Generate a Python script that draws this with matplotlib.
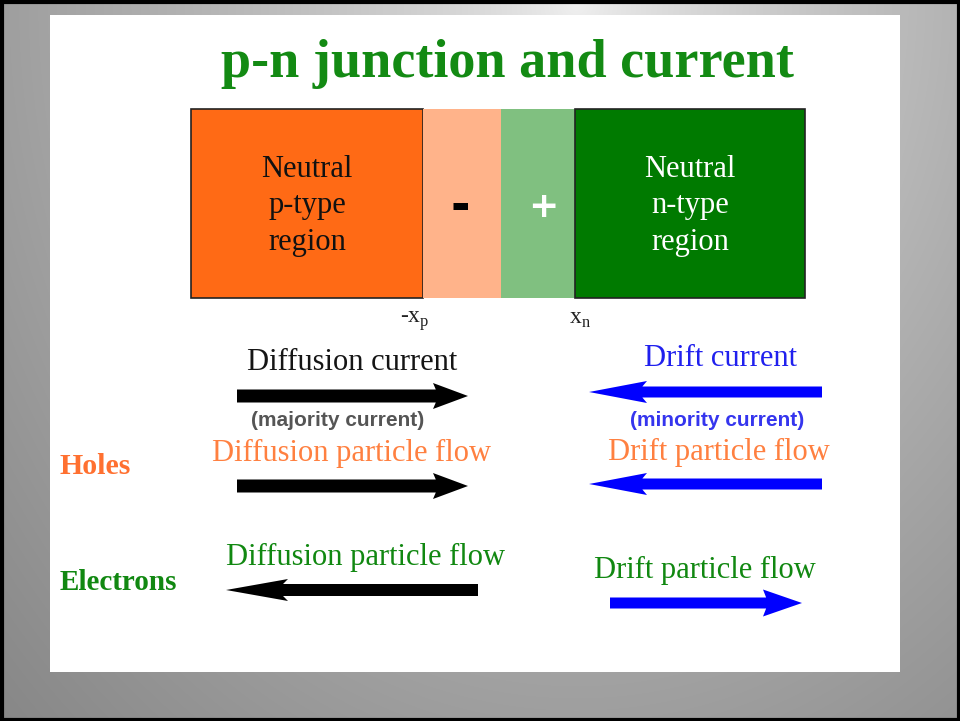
import numpy as np
import matplotlib
matplotlib.use("Agg")
import matplotlib.pyplot as plt
from matplotlib.patches import Rectangle, FancyArrow

W, H = 960, 721

# ---- data ----
region_edges = [191, 423, 501, 575, 805]          # x boundaries of the four regions
region_colors = ["#FF6A15", "#FFB38A", "#80C080", "#007A00"]
region_labels = ["Neutral\np-type\nregion", "-", "+", "Neutral\nn-type\nregion"]
region_label_colors = ["#111111", "#000000", "#FFFFFF", "#FFFFFF"]
box_top, box_bottom = 109, 298

arrow_starts = [237, 237, 478, 822, 822, 610]
arrow_ends = [468, 468, 226, 589, 589, 802]
arrow_y = [396, 486, 590, 392, 484, 603]
arrow_colors = ["black", "black", "black", "#0000FF", "#0000FF", "#0000FF"]
arrow_head_len = [35, 35, 62, 58, 58, 39]
arrow_head_w = [26, 26, 22, 22, 22, 27]
arrow_shaft_w = [13, 13, 12, 11, 11, 11]

serif = ["Liberation Serif", "DejaVu Serif"]
sans = ["Liberation Sans", "DejaVu Sans"]

fig = plt.figure(figsize=(W / 100, H / 100), dpi=100)
ax = fig.add_axes([0, 0, 1, 1])
ax.set_xlim(0, W)
ax.set_ylim(H, 0)
ax.axis("off")

# gray gradient background
yy, xx = np.mgrid[0:H, 0:W]
r = np.sqrt(((xx - W * 0.6) / (W * 0.6)) ** 2 + (yy / H) ** 2)
g = np.clip(0.95 - 0.33 * r ** 0.7, 0, 1)
ax.imshow(np.dstack([g, g, g]), extent=[0, W, H, 0], zorder=0, aspect="auto")
ax.add_patch(Rectangle((1.5, 1.5), W - 3, H - 3, fill=False, ec="black", lw=3, zorder=1))

# white slide
ax.add_patch(Rectangle((50, 15), 850, 657, fc="white", ec="none", zorder=2))

# title
ax.text(507, 64, "p-n junction and current", family=serif, fontsize=39, fontweight="bold",
        color="#138A13", ha="center", va="center", zorder=5)

# regions
for i in range(4):
    x0, x1 = region_edges[i], region_edges[i + 1]
    edge = "#222222" if i in (0, 3) else "none"
    ax.add_patch(Rectangle((x0, box_top), x1 - x0, box_bottom - box_top, fc=region_colors[i],
                           ec=edge, lw=1.2, zorder=3))
for i, lab in enumerate(region_labels):
    xc = (region_edges[i] + region_edges[i + 1]) / 2
    if i == 1:
        ax.text(xc - 2, 207, lab, family="DejaVu Sans", fontsize=34, fontweight="heavy",
                color=region_label_colors[i], ha="center", va="center", zorder=5)
    elif i == 2:
        ax.text(xc + 5, 207, lab, family="DejaVu Sans", fontsize=26, fontweight="bold",
                color=region_label_colors[i], ha="center", va="center", zorder=5)
    else:
        ax.text(xc, 206, lab, family=serif, fontsize=22,
                color=region_label_colors[i], ha="center", va="center", linespacing=1.33, zorder=5)

ax.text(415, 321, r"-x$_\mathregular{p}$", family=serif, fontsize=17, color="#222222",
        ha="center", va="center", zorder=5)
ax.text(580, 320, r"x$_\mathregular{n}$", family=serif, fontsize=17, color="#222222",
        ha="center", va="center", zorder=5)

# arrows
for xs, xe, y, c, hl, hw, sw in zip(arrow_starts, arrow_ends, arrow_y, arrow_colors,
                                    arrow_head_len, arrow_head_w, arrow_shaft_w):
    ax.add_patch(FancyArrow(xs, y, xe - xs, 0, width=sw, head_width=hw, head_length=hl,
                            length_includes_head=True, overhang=0.08, fc=c, ec=c, lw=0, zorder=4))

# labels
fs = 22
txt = [
    (352, 363, "Diffusion current", "#151515"),
    (720, 358, "Drift current", "#2020EE"),
    (352, 453, "Diffusion particle flow", "#FF8040"),
    (719, 452, "Drift particle flow", "#FF8040"),
    (366, 557, "Diffusion particle flow", "#118811"),
    (705, 570, "Drift particle flow", "#118811"),
]
for x, y, s, c in txt:
    ax.text(x, y, s, family=serif, fontsize=fs, color=c, ha="center", va="center", zorder=5)

ax.text(338, 420, "(majority current)", family=sans, fontsize=15, fontweight="bold",
        color="#555555", ha="center", va="center", zorder=5)
ax.text(717, 421, "(minority current)", family=sans, fontsize=15, fontweight="bold",
        color="#3535EE", ha="center", va="center", zorder=5)

ax.text(60, 467, "Holes", family=serif, fontsize=21.5, fontweight="bold", color="#FF7030",
        ha="left", va="center", zorder=5)
ax.text(60, 582, "Electrons", family=serif, fontsize=21, fontweight="bold", color="#118811",
        ha="left", va="center", zorder=5)

fig.savefig("out.png", dpi=100)
